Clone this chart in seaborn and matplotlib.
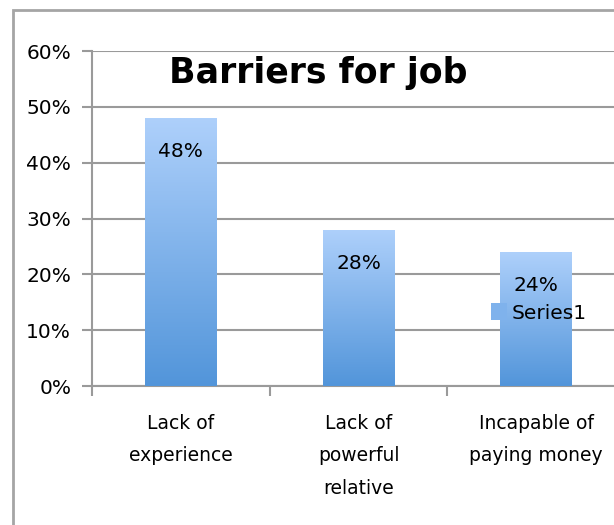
import numpy as np
import pandas as pd
import seaborn as sns
import matplotlib.pyplot as plt
from matplotlib.patches import Rectangle
from matplotlib.colors import LinearSegmentedColormap
from matplotlib.ticker import PercentFormatter

# data
barriers = ['Lack of\nexperience', 'Lack of\npowerful\nrelative', 'Incapable of\npaying money']
shares = [0.48, 0.28, 0.24]
series_name = 'Series1'
title = 'Barriers for job'

df = pd.DataFrame({'barrier': barriers, 'share': shares, 'series': series_name})

sns.set_style('white')
plt.rcParams['font.family'] = ['DejaVu Sans']
plt.rcParams['text.color'] = 'black'
plt.rcParams['xtick.labelcolor'] = 'black'
plt.rcParams['ytick.labelcolor'] = 'black'

grey = '#9a9a9a'
top_col = '#aed0fb'
bot_col = '#5295da'

fig = plt.figure(figsize=(6.14, 5.25), dpi=100)
# outer chart border (right/bottom edges fall outside the picture)
fig.patches.append(Rectangle((13 / 614, -0.1), 1.2, (515 / 525) + 0.1, transform=fig.transFigure,
                             fill=False, edgecolor='#a5a5a5', linewidth=2))

ax = fig.add_axes([92 / 614, 139 / 525, 533 / 614, 335 / 525])
sns.barplot(data=df, x='barrier', y='share', hue='series', width=0.405, ax=ax,
            palette=[bot_col], saturation=1, edgecolor='none', zorder=3)

# gradient fill on bars
cmap = LinearSegmentedColormap.from_list('bar', [bot_col, top_col])
grad = np.linspace(0, 1, 256).reshape(-1, 1)
for p in ax.patches:
    x0, y0 = p.get_x(), p.get_y()
    w, h = p.get_width(), p.get_height()
    im = ax.imshow(grad, cmap=cmap, origin='lower', aspect='auto',
                   extent=[x0, x0 + w, y0, y0 + h], zorder=3.5)
    im.set_clip_path(p)

for i, v in enumerate(shares):
    ax.text(i, v - 0.06, f'{v:.0%}', ha='center', va='center', fontsize=14.5, color='black', zorder=5)

ax.set_xlim(-0.5, 2.5)
ax.set_ylim(0, 0.6)
ax.set_yticks(np.arange(0, 0.61, 0.1))
ax.yaxis.set_major_formatter(PercentFormatter(1.0, decimals=0))
ax.grid(axis='y', color=grey, linewidth=1.5, zorder=0)
ax.set_axisbelow(True)
ax.set_xlabel('')
ax.set_ylabel('')

for s in ['top', 'right']:
    ax.spines[s].set_visible(False)
for s in ['left', 'bottom']:
    ax.spines[s].set_color(grey)
    ax.spines[s].set_linewidth(1.5)

ax.tick_params(axis='y', which='major', length=7, width=1.5, color=grey, labelsize=14.5, pad=8, left=True)
ax.tick_params(axis='x', which='major', length=0, labelsize=13.5, pad=20)
ax.set_xticks([-0.5, 0.5, 1.5, 2.5], minor=True)
ax.tick_params(axis='x', which='minor', length=7, width=1.5, color=grey, bottom=True)
for lbl in ax.get_xticklabels():
    lbl.set_linespacing(1.9)

ax.set_title(title, fontsize=25, fontweight='bold', x=0.425, y=0.88)

leg = ax.legend(loc='center left', bbox_to_anchor=(0.748, 0.218), frameon=False,
                fontsize=14.5, handlelength=0.8, handleheight=0.9, handletextpad=0.25,
                borderaxespad=0, borderpad=0)
for h in leg.legend_handles:
    h.set_facecolor('#7fb2ec')

fig.savefig('out.png', dpi=100)
